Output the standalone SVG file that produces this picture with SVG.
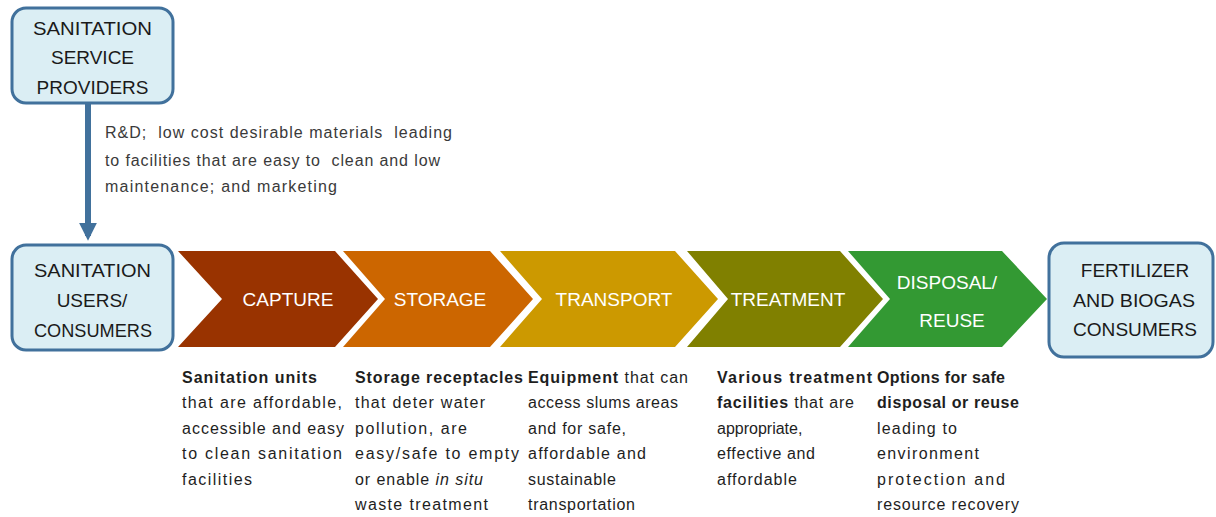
<svg xmlns="http://www.w3.org/2000/svg" width="1216" height="517" viewBox="0 0 1216 517">
<defs>
<style>
.box{fill:#dbeef4;stroke:#41719c;stroke-width:3}
.bt{font-family:"Liberation Sans",Arial,sans-serif;font-size:19px;fill:#1a1a1a;text-anchor:middle}
.ct{font-family:"Liberation Sans",Arial,sans-serif;font-size:19px;fill:#ffffff;text-anchor:middle}
.lt{font-family:"Liberation Sans",Arial,sans-serif;font-size:16px;fill:#3a3a3a;white-space:pre}
.dt{font-family:"Liberation Sans",Arial,sans-serif;font-size:16px;fill:#1e1e1e}
.b{font-weight:bold}
.i{font-style:italic}
</style>
<marker id="ah" markerWidth="4" markerHeight="3" refX="2.2" refY="1.5" orient="auto" markerUnits="strokeWidth">
<path d="M0,0 L3,1.5 L0,3 Z" fill="#41719c"/>
</marker>
</defs>
<rect width="1216" height="517" fill="#ffffff"/>

<g id="providers">
<rect class="box" x="12" y="8" width="161" height="95" rx="14"/>
<text class="bt" x="92.5" y="35" textLength="119" lengthAdjust="spacingAndGlyphs">SANITATION</text>
<text class="bt" x="92.5" y="64">SERVICE</text>
<text class="bt" x="92.5" y="94">PROVIDERS</text>
</g>

<g id="connectors">
<line x1="88" y1="104" x2="88" y2="236" stroke="#41719c" stroke-width="6" marker-end="url(#ah)"/>
<text class="lt" xml:space="preserve" x="105" y="138" textLength="347" lengthAdjust="spacing">R&amp;D;  low cost desirable materials  leading</text>
<text class="lt" xml:space="preserve" x="105" y="166" textLength="335" lengthAdjust="spacing">to facilities that are easy to  clean and low</text>
<text class="lt" x="105" y="192" textLength="232" lengthAdjust="spacing">maintenance; and marketing</text>
</g>

<g id="users">
<rect class="box" x="12" y="245" width="161" height="105" rx="14"/>
<text class="bt" x="92.5" y="277" textLength="117" lengthAdjust="spacingAndGlyphs">SANITATION</text>
<text class="bt" x="92" y="307">USERS/</text>
<text class="bt" x="93" y="337" textLength="118" lengthAdjust="spacingAndGlyphs">CONSUMERS</text>
</g>

<g id="capture">
<polygon points="178,251 335,251 378,299 335,347 178,347 222,299" fill="#993300"/>
<text class="ct" x="288" y="306">CAPTURE</text>
</g>
<g id="storage">
<polygon points="343,251 490,251 533,299 490,347 343,347 385,299" fill="#cc6600"/>
<text class="ct" x="440" y="306">STORAGE</text>
</g>
<g id="transport">
<polygon points="500,251 675,251 718,299 675,347 500,347 542,299" fill="#cc9900"/>
<text class="ct" x="614" y="306">TRANSPORT</text>
</g>
<g id="treatment">
<polygon points="687,251 840,251 883,299 840,347 687,347 728,299" fill="#808000"/>
<text class="ct" x="788" y="306">TREATMENT</text>
</g>
<g id="disposal">
<polygon points="848,251 1002,251 1047,299 1002,347 848,347 890,299" fill="#339933"/>
<text class="ct" x="947" y="289">DISPOSAL/</text>
<text class="ct" x="952" y="327">REUSE</text>
</g>

<g id="fertilizer">
<rect class="box" x="1049" y="243" width="164" height="114" rx="15"/>
<text class="bt" x="1135" y="277">FERTILIZER</text>
<text class="bt" x="1134" y="307" textLength="122" lengthAdjust="spacingAndGlyphs">AND BIOGAS</text>
<text class="bt" x="1135" y="336" textLength="124" lengthAdjust="spacingAndGlyphs">CONSUMERS</text>
</g>

<g id="desc-capture">
<text class="dt b" x="182" y="383" textLength="135" lengthAdjust="spacing">Sanitation units</text>
<text class="dt" x="182" y="408" textLength="160" lengthAdjust="spacing">that are affordable,</text>
<text class="dt" x="182" y="434" textLength="162" lengthAdjust="spacing">accessible and easy</text>
<text class="dt" x="182" y="459" textLength="160" lengthAdjust="spacing">to clean sanitation</text>
<text class="dt" x="182" y="485" textLength="70" lengthAdjust="spacing">facilities</text>
</g>
<g id="desc-storage">
<text class="dt b" x="355" y="383" textLength="168" lengthAdjust="spacing">Storage receptacles</text>
<text class="dt" x="355" y="408" textLength="130" lengthAdjust="spacing">that deter water</text>
<text class="dt" x="355" y="434" textLength="112" lengthAdjust="spacing">pollution, are</text>
<text class="dt" x="355" y="459" textLength="164" lengthAdjust="spacing">easy/safe to empty</text>
<text class="dt" x="355" y="485" textLength="128" lengthAdjust="spacing">or enable <tspan class="i">in situ</tspan></text>
<text class="dt" x="355" y="510" textLength="133" lengthAdjust="spacing">waste treatment</text>
</g>
<g id="desc-transport">
<text class="dt" x="528" y="383" textLength="160" lengthAdjust="spacing"><tspan class="b">Equipment</tspan> that can</text>
<text class="dt" x="528" y="408" textLength="150" lengthAdjust="spacing">access slums areas</text>
<text class="dt" x="528" y="434" textLength="98" lengthAdjust="spacing">and for safe,</text>
<text class="dt" x="528" y="459" textLength="118" lengthAdjust="spacing">affordable and</text>
<text class="dt" x="528" y="485" textLength="88" lengthAdjust="spacing">sustainable</text>
<text class="dt" x="528" y="510" textLength="107" lengthAdjust="spacing">transportation</text>
</g>
<g id="desc-treatment">
<text class="dt b" x="717" y="383" textLength="155" lengthAdjust="spacing">Various treatment</text>
<text class="dt" x="717" y="408" textLength="137" lengthAdjust="spacing"><tspan class="b">facilities</tspan> that are</text>
<text class="dt" x="717" y="434">appropriate,</text>
<text class="dt" x="717" y="459" textLength="98" lengthAdjust="spacing">effective and</text>
<text class="dt" x="717" y="485" textLength="80" lengthAdjust="spacing">affordable</text>
</g>
<g id="desc-disposal">
<text class="dt b" x="877" y="383" textLength="128" lengthAdjust="spacing">Options for safe</text>
<text class="dt b" x="877" y="408" textLength="142" lengthAdjust="spacing">disposal or reuse</text>
<text class="dt" x="877" y="434" textLength="80" lengthAdjust="spacing">leading to</text>
<text class="dt" x="877" y="459" textLength="102" lengthAdjust="spacing">environment</text>
<text class="dt" x="877" y="485" textLength="128" lengthAdjust="spacing">protection and</text>
<text class="dt" x="877" y="510" textLength="142" lengthAdjust="spacing">resource recovery</text>
</g>
</svg>
